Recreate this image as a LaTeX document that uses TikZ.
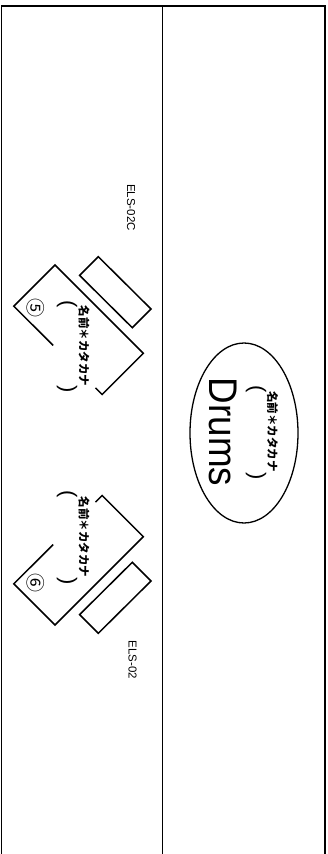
\documentclass[tikz,border=0pt]{standalone}
\usepackage{fontspec}
\setmainfont{Liberation Sans}
\newfontfamily\jp{Noto Sans CJK JP}
\usetikzlibrary{shapes.geometric}
\begin{document}
\begin{tikzpicture}[x=1pt,y=-1pt,
  frameline/.style={line width=1.3pt,black},
  kbline/.style={line width=1.5pt,black,line join=miter},
  rot/.style={rotate=-90,inner sep=0pt,anchor=center},
  namelbl/.style={rot,font=\jp\bfseries\fontsize{11.5}{11.5}\selectfont},
  paren/.style={rot,font=\fontsize{22}{22}\selectfont},
  model/.style={rot,font=\fontsize{11.5}{11.5}\selectfont},
  numlbl/.style={rot,font=\jp\fontsize{19}{19}\selectfont}]
\useasboundingbox (0,0) rectangle (327,854);
\fill[white] (0,0) rectangle (327,854);
% frame
\coordinate (tl) at (1.2,6);
\coordinate (tr) at (325,6);
\coordinate (bl) at (1.2,854);
\coordinate (br) at (325,854);
\coordinate (mt) at (162.8,6);
\coordinate (mb) at (162.8,854);
\draw[frameline] (bl) -- (tl) -- (tr) -- (br);
\draw[frameline] (mt) -- (mb);
% drums
\node[draw,ellipse,line width=1.3pt,minimum width=108pt,minimum height=180pt,inner sep=0pt] (drumset) at (244,433) {};
\node[rot,font=\fontsize{40}{40}\selectfont] (drumstxt) at (223.5,432) {\scalebox{0.92}[1]{Drums}};
\node[namelbl] (drumname) at (272.5,431.5) {名前＊カタカナ};
\node[paren] (drumpo) at (256,389) {(};
\node[paren] (drumpc) at (256,476) {)};
% keyboard 5
\coordinate (a5) at (13.8,306.2);
\coordinate (b5) at (55,265);
\coordinate (c5) at (143.3,353.3);
\coordinate (d5) at (102.1,394.5);
\coordinate (p5) at (53.2,345.4);
\coordinate (q5) at (95.5,387.9);
\draw[kbline] (p5) -- (a5) -- (b5) -- (c5) -- (d5) -- (q5);
\coordinate (e5) at (98.3,256.7);
\coordinate (f5) at (79.6,275.4);
\coordinate (g5) at (132.3,327.7);
\coordinate (h5) at (151,309);
\draw[kbline] (e5) -- (f5) -- (g5) -- (h5) -- cycle;
\node[numlbl] (n5) at (35.5,308) {⑤};
\node[namelbl] (name5) at (84,346) {名前＊カタカナ};
\node[paren] (po5) at (67,304) {(};
\node[paren] (pc5) at (67,389) {)};
\node[model] (m5) at (131,207.5) {ELS-02C};
% keyboard 6
\coordinate (a6) at (13.8,583.8);
\coordinate (b6) at (55,625);
\coordinate (c6) at (143.3,536.7);
\coordinate (d6) at (102.1,495.5);
\coordinate (p6) at (53.2,544.6);
\coordinate (q6) at (95.5,502.1);
\draw[kbline] (p6) -- (a6) -- (b6) -- (c6) -- (d6) -- (q6);
\coordinate (e6) at (98.3,633.3);
\coordinate (f6) at (79.6,614.6);
\coordinate (g6) at (132.3,562.3);
\coordinate (h6) at (151,581);
\draw[kbline] (e6) -- (f6) -- (g6) -- (h6) -- cycle;
\node[numlbl] (n6) at (35.5,583) {⑥};
\node[namelbl] (name6) at (84,537) {名前＊カタカナ};
\node[paren] (po6) at (67,494) {(};
\node[paren] (pc6) at (67,581) {)};
\node[model] (m6) at (132.5,660) {ELS-02};
\end{tikzpicture}
\end{document}
